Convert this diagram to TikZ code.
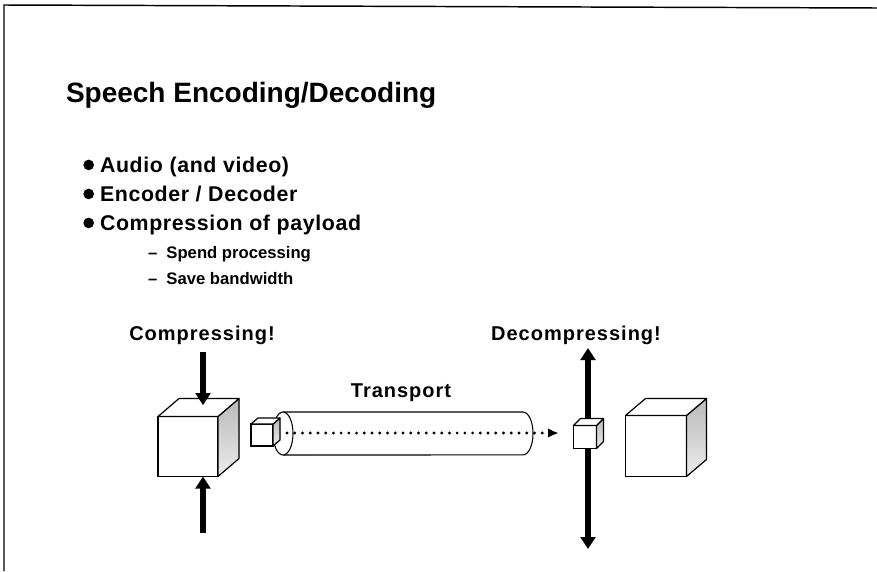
\documentclass[tikz,border=0pt]{standalone}
\usepackage{fontspec}
\setmainfont{Liberation Sans}
\usetikzlibrary{arrows.meta, positioning}

% front face as a node, top and side faces hung on its anchors
\newcommand{\drawcube}[5]{% name, centre, side (px), depth right, depth up
  \node[face, minimum size=#3*0.75pt] (#1) at (#2) {};
  \filldraw[cubeside] (#1.south east) -- ++(#4,-#5) -- ++(0,-#3) -- (#1.north east) -- cycle;
  \filldraw[cubetop] (#1.north west) -- ++(#4,-#5) -- ++(#3,0) -- (#1.north east) -- cycle;
}

\begin{document}
\begin{tikzpicture}[
    x=0.75pt, y=-0.75pt,
    every node/.style={inner sep=0pt, outer sep=0pt},
    heading/.style={anchor=base west, font=\fontsize{21}{25}\selectfont\bfseries},
    point/.style={anchor=base west, font=\fontsize{16}{19}\selectfont\bfseries\addfontfeature{LetterSpace=3}},
    subpoint/.style={anchor=base west, font=\fontsize{12.5}{15}\selectfont\bfseries},
    tag/.style={anchor=base, font=\fontsize{15}{18}\selectfont\bfseries\addfontfeature{LetterSpace=5}},
    face/.style={draw=black, line width=0.9pt, fill=white},
    cubetop/.style={draw=black, line width=0.9pt, fill=white, line join=round},
    cubeside/.style={draw=black, line width=0.9pt, top color=gray!55, bottom color=gray!15, line join=round},
    press/.style={line width=4.2pt, -{Triangle[length=9pt, width=11pt]}},
    flow/.style={line width=2.4pt, line cap=round, dash pattern=on 0pt off 5.8pt, -{Latex[length=8pt, width=7pt]}},
    tube/.style={draw=black, line width=0.8pt, fill=white}
]
\useasboundingbox (0,0) rectangle (877,571);

% slide frame
\draw[line width=1.1pt] (877,8) -- (4,5) -- (4,571);

% --- title and bullets ---
\node[heading] (title) at (66,102) {Speech Encoding/Decoding};

\node[point] (b1) at (100,172) {Audio (and video)};
\node[point] (b2) at (100,201) {Encoder / Decoder};
\node[point] (b3) at (100,230) {Compression of payload};
\foreach \b in {b1,b2,b3}
  \fill ([xshift=-8.5pt, yshift=5.3pt]\b.base west) circle [radius=4pt];

\node[subpoint] (s1) at (148,258) {–\hspace{0.55em}Spend processing};
\node[subpoint] (s2) at (148,284) {–\hspace{0.55em}Save bandwidth};

% --- encoder side ---
\node[tag] (comp) at (202,340) {Compressing!};
\coordinate (pushtop) at (203,352);
\coordinate (pushbot) at (203,533);
\drawcube{enc}{188,446.5}{60}{21}{18}
\draw[press] (pushtop) -- ([xshift=11.25pt, yshift=8.5pt]enc.north);
\draw[press] (pushbot) -- ([xshift=11.25pt]enc.south);

% --- transport pipe ---
\node[tag] (trans) at (401,397) {Transport};
\draw[tube] (283,412) -- (523,412) arc [start angle=90, end angle=-90, x radius=7.5pt, y radius=16.1pt] -- (283,455);
\draw[tube] (283,433.5) ellipse [x radius=7.5pt, y radius=16.1pt];
\drawcube{pkt}{262,435}{22}{7}{6}
\coordinate (pktout) at (287,433);

% --- decoder side ---
\node[tag] (decomp) at (576,340) {Decompressing!};
\coordinate (mid) at (588,436);
\coordinate (pulltop) at (588,348);
\coordinate (pullbot) at (588,549);
\draw[press] (mid) -- (pulltop);
\draw[press] (mid) -- (pullbot);
\drawcube{rx}{585,437}{23}{7}{7}
\draw[flow] (pktout) -- ([xshift=-11pt]rx.west |- pktout);

\drawcube{dec}{656,446}{61}{20}{17}

\end{tikzpicture}
\end{document}
